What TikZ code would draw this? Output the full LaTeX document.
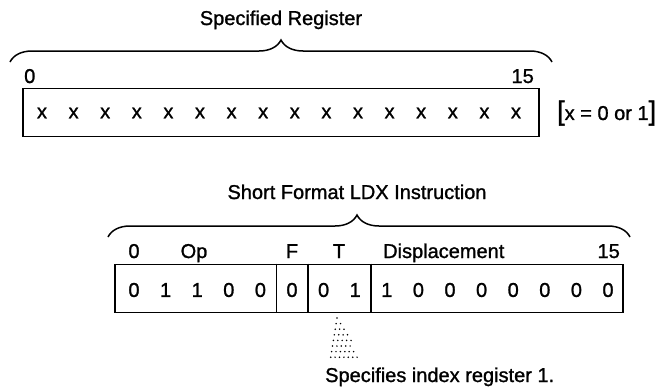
\documentclass[tikz,border=0pt]{standalone}
\usepackage{fontspec}
\setmainfont{Liberation Sans}[RawFeature={embolden=1.2}]
\usetikzlibrary{decorations.pathreplacing}

\begin{document}
\begin{tikzpicture}[
  x=1pt, y=-1pt,
  every node/.style={inner sep=0pt,font=\fontsize{20}{24}\selectfont},
  regbox/.style={draw,line width=1.6pt,minimum height=48pt},
  curly/.style={decorate,decoration={brace,amplitude=22pt},line width=1.5pt}
]
\useasboundingbox (0,0) rectangle (668,388);
% specified register
\begin{scope}
  \node[regbox,minimum width=516pt] (reg) at (281,112.5) {};
  \foreach \i in {0,...,15}
    \node (x\i) at (42+31.6*\i,113) {x};
  \node[anchor=base west] (regmsb) at (24,83) {0};
  \node[anchor=base east] (reglsb) at (534,83) {15};
  \draw[curly] (10,62) -- (552,62);
  \node[anchor=base] (regtitle) at (281,25) {Specified Register};
  \node[anchor=west] (regnote) at (557,113)
    {{\fontsize{27}{27}\selectfont[}x = 0 or 1{\fontsize{27}{27}\selectfont]}};
\end{scope}
% short format LDX instruction
\begin{scope}
  \node[regbox,minimum width=508pt] (ldx) at (369,288.5) {};
  \foreach \b [count=\i from 0] in {0,1,1,0,0,0,0,1,1,0,0,0,0,0,0,0}
    \node (b\i) at (134+31.6*\i,290) {\b};
  \foreach \d in {4.5,5.5,7.5}
    \draw[line width=1.4pt] (134+31.6*\d,0 |- ldx.north) -- (134+31.6*\d,0 |- ldx.south);
  \node[anchor=base] (msb) at (134,258) {0};
  \node[anchor=base] (op) at (194,258) {Op};
  \node[anchor=base] (fld) at (292,258) {F};
  \node[anchor=base] (tag) at (339,258) {T};
  \node[anchor=base west] (disp) at (383,258) {Displacement};
  \node[anchor=base east] (lsb) at (620,258) {15};
  \draw[curly,decoration={aspect=0.477}] (108,237) -- (630,237);
  \node[anchor=base] (ldxtitle) at (357,199) {Short Format LDX Instruction};
\end{scope}
% dotted pointer to T
\foreach \r in {0,...,7} {
  \pgfmathtruncatemacro\n{round(\r*0.9)}
  \foreach \c in {0,...,\n}
    \fill ({337-0.9*\r+4.4*\c},{318+5.6*\r}) circle (0.85);
}
\node[anchor=base west] (note) at (325,382) {Specifies index register 1.};
\end{tikzpicture}
\end{document}
